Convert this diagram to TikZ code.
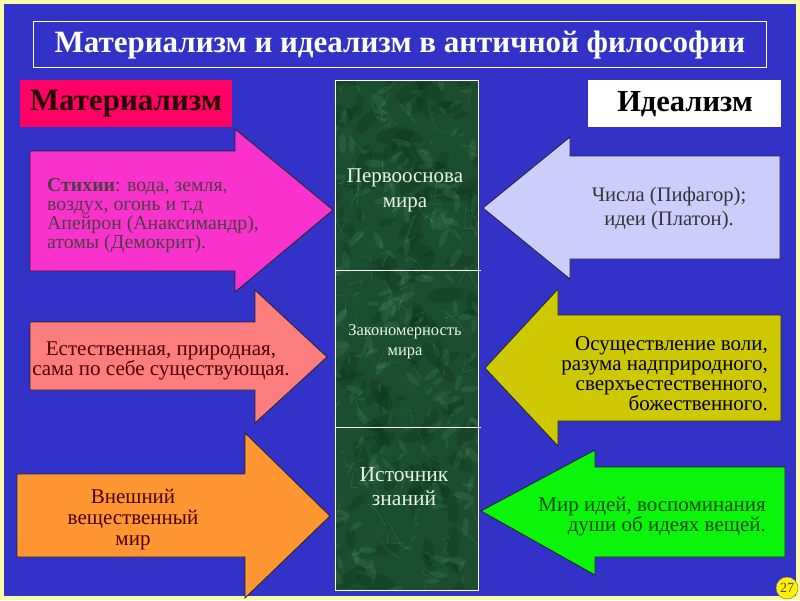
\documentclass[tikz,border=0pt]{standalone}
\usepackage{fontspec}
\setmainfont{Liberation Serif}

\definecolor{slideblue}{RGB}{50,50,200}
\definecolor{rimyellow}{RGB}{250,250,170}
\definecolor{crimson}{RGB}{255,0,102}
\definecolor{magentaarr}{RGB}{250,50,205}
\definecolor{salmonarr}{RGB}{252,125,125}
\definecolor{orangearr}{RGB}{255,150,50}
\definecolor{lavenderarr}{RGB}{205,205,252}
\definecolor{olivearr}{RGB}{205,200,0}
\definecolor{greenarr}{RGB}{10,245,10}
\definecolor{marbledark}{RGB}{26,78,46}
\definecolor{marblelight}{RGB}{120,190,140}
\definecolor{marbledeep}{RGB}{8,40,22}
\definecolor{columntext}{RGB}{230,245,230}

\tikzset{
  arrowshape/.style={draw=black!85, line width=0.8pt, line join=miter},
  bodytext/.style={font=\fontsize{21}{20}\selectfont, inner sep=0pt},
  columnlabel/.style={text=columntext, align=center, inner sep=0pt}
}

\begin{document}
\begin{tikzpicture}[x=1pt,y=-1pt]
      \useasboundingbox (0,0) rectangle (800,600);
      \fill [rimyellow] (0,0) rectangle (800,600);
      \fill [slideblue] (4,4) rectangle (796,596);
      % title
      \draw [white, line width=0.8pt] (33,21) rectangle (766,67);
      \node [text=white, font=\bfseries\fontsize{31}{34}\selectfont] (title) at (400,45) {Материализм и идеализм в античной философии};
      \fill [crimson] (20,80) rectangle (232,127);
      \node [text=black!85!red, font=\bfseries\fontsize{31}{34}\selectfont] (mat) at (126,104) {Материализм};
      \fill [white] (588,80) rectangle (781,127);
      \node [text=black, font=\bfseries\fontsize{30.5}{34}\selectfont] (ideal) at (685,104) {Идеализм};
      % marble column
      \begin{scope}
        \clip (335,80) rectangle (478,590);
        \fill [marbledark] (335,80) rectangle (478,590);
        \pgfmathsetseed{11}
        \foreach \i in {1,...,120} {
          \pgfmathsetmacro\mx{335+143*rnd}
          \pgfmathsetmacro\my{80+510*rnd}
          \pgfmathsetmacro\mr{6+14*rnd}
          \pgfmathsetmacro\ma{180*rnd}
          \fill [marbledeep, opacity=0.22, rotate around={\ma:(\mx,\my)}] (\mx,\my) ellipse [x radius=\mr, y radius=0.4*\mr];
        }
        \foreach \i in {1,...,200} {
          \pgfmathsetmacro\mx{335+143*rnd}
          \pgfmathsetmacro\my{80+510*rnd}
          \pgfmathsetmacro\mr{3+8*rnd}
          \pgfmathsetmacro\ma{180*rnd}
          \fill [marblelight, opacity=0.12, rotate around={\ma:(\mx,\my)}] (\mx,\my) ellipse [x radius=\mr, y radius=0.35*\mr];
        }
        \foreach \i in {1,...,90} {
          \pgfmathsetmacro\mx{335+143*rnd}
          \pgfmathsetmacro\my{80+510*rnd}
          \pgfmathsetmacro\dx{16*rand}
          \pgfmathsetmacro\dy{24*rand}
          \draw [marblelight, opacity=0.2, line width=0.6pt] (\mx,\my) -- ++(\dx,\dy) -- ++(0.5*\dy,0.6*\dx);
        }
      \end{scope}
      \draw [white, line width=0.8pt] (335,80) rectangle (478,590);
      \draw [white, line width=0.8pt] (335,270) -- (481,270);
      \draw [white, line width=0.8pt] (335,427) -- (481,427);
      \node [columnlabel, font=\fontsize{21}{25}\selectfont] (base) at (405,190) {Первооснова\\мира};
      \node [columnlabel, font=\fontsize{16.5}{20}\selectfont] (law) at (405,342) {Закономерность\\мира};
      \node [columnlabel, font=\fontsize{21.5}{24}\selectfont] (source) at (404,487) {Источник\\знаний};
      % left arrows
      \draw [arrowshape, fill=magentaarr] (30,151) -- (235,151) -- (235,129) -- (333,210) -- (235,292) -- (235,271) -- (30,271) -- cycle;
      \draw [arrowshape, fill=salmonarr] (30,322) -- (255,322) -- (255,290) -- (327,357) -- (255,423) -- (255,390) -- (30,390) -- cycle;
      \draw [arrowshape, fill=orangearr] (17,474) -- (245,474) -- (245,433) -- (330,516) -- (245,598) -- (245,557) -- (17,557) -- cycle;
      \node [bodytext, anchor=west, align=left, text=black!80!magenta, font=\fontsize{19.8}{19}\selectfont] (elements) at (47,216)
        {\textbf{Стихии}: вода, земля,\\воздух, огонь и т.д\\Апейрон (Анаксимандр),\\атомы (Демокрит).};
      \node [bodytext, align=center, text=black!70!red] (natural) at (161,361)
        {Естественная, природная,\\сама по себе существующая.};
      \node [bodytext, align=center, text=black!70!red, font=\fontsize{21}{21}\selectfont] (outer) at (133,520)
        {Внешний\\вещественный\\мир};
      % right arrows
      \draw [arrowshape, fill=lavenderarr] (780,156) -- (570,156) -- (570,137) -- (483,208) -- (570,279) -- (570,259) -- (780,259) -- cycle;
      \draw [arrowshape, fill=olivearr] (781,315) -- (558,315) -- (558,289) -- (485,368) -- (558,446) -- (558,421) -- (781,421) -- cycle;
      \draw [arrowshape, fill=greenarr] (785,467) -- (595,467) -- (595,450) -- (481,511) -- (595,575) -- (595,557) -- (785,557) -- cycle;
      \node [bodytext, align=center, text=black!80, font=\fontsize{20.6}{24}\selectfont] (numbers) at (669,209)
        {Числа (Пифагор);\\идеи (Платон).};
      \node [bodytext, anchor=east, align=right, text=black, font=\fontsize{21}{20}\selectfont] (will) at (768,374)
        {Осуществление воли,\\разума надприродного,\\сверхъестественного,\\божественного.};
      \node [bodytext, anchor=east, align=right, text=black!70!green, font=\fontsize{21}{20}\selectfont] (ideas) at (766,517)
        {Мир идей, воспоминания\\души об идеях вещей.};
      % page number
      \node [circle, fill=yellow, draw=black!60, line width=0.4pt, inner sep=0pt, minimum size=22pt, font=\fontsize{14}{14}\selectfont, text=black!70] (page) at (787,588) {27};
    \end{tikzpicture}
\end{document}
